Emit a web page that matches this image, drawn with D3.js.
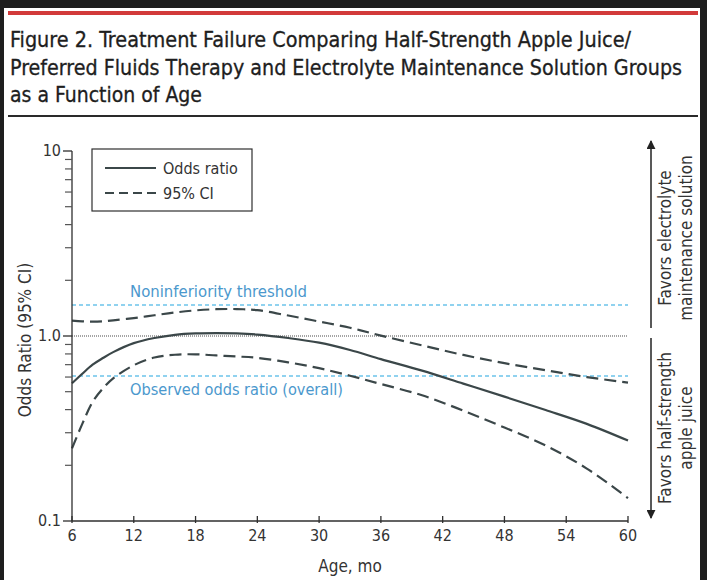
<!DOCTYPE html>
<html>
<head>
<meta charset="utf-8">
<script src="https://cdn.jsdelivr.net/npm/d3@7"></script>
<style>
  html, body { margin: 0; padding: 0; background: #1e1e1e; }
  svg { display: block; }
  text { font-family: "Liberation Sans Narrow", "DejaVu Sans Condensed", "Open Sans", sans-serif; }
</style>
</head>
<body>
<svg id="chart" width="707" height="580"></svg>
<script>
// ---- Data ----
const titleLines = [
  "Figure 2. Treatment Failure Comparing Half-Strength Apple Juice/",
  "Preferred Fluids Therapy and Electrolyte Maintenance Solution Groups",
  "as a Function of Age"
];
const ages = [6, 7, 8, 9, 10, 12, 14, 16, 18, 20, 22, 24, 27, 30, 33, 36, 40, 44, 48, 52, 56, 60];
const oddsRatio = [0.555, 0.625, 0.70, 0.76, 0.818, 0.915, 0.975, 1.015, 1.033, 1.037, 1.033, 1.018, 0.975, 0.92, 0.84, 0.75, 0.65, 0.553, 0.47, 0.398, 0.335, 0.272];
const ciUpper   = [1.21, 1.20, 1.195, 1.20, 1.215, 1.25, 1.295, 1.34, 1.375, 1.396, 1.398, 1.38, 1.29, 1.197, 1.108, 1.005, 0.89, 0.79, 0.713, 0.653, 0.60, 0.56];
const ciLower   = [0.247, 0.335, 0.44, 0.52, 0.59, 0.695, 0.765, 0.792, 0.796, 0.785, 0.775, 0.762, 0.72, 0.67, 0.61, 0.55, 0.478, 0.395, 0.32, 0.256, 0.192, 0.133];
const xTicks = [6, 12, 18, 24, 30, 36, 42, 48, 54, 60];
const yMajorTicks = [0.1, 1, 10];
const yMajorLabels = ["0.1", "1.0", "10"];
const yMinorTicks = [0.2, 0.3, 0.4, 0.5, 0.6, 0.7, 0.8, 0.9, 2, 3, 4, 5, 6, 7, 8, 9];
const nonInferiority = 1.47;
const observedOR = 0.608;
const refLabels = ["Noninferiority threshold", "Observed odds ratio (overall)"];
const legendLabels = ["Odds ratio", "95% CI"];
const xTitle = "Age, mo";
const yTitle = "Odds Ratio (95% CI)";
const favorsUpper = ["Favors electrolyte", "maintenance solution"];
const favorsLower = ["Favors half-strength", "apple juice"];

// ---- Drawing ----
const svg = d3.select("#chart");
const ink = "#2f2f2f";
const curveColor = "#3b4749";
const blueLine = "#6cc4ea";
const blueText = "#4b98cd";

// white page area
svg.append("rect").attr("x", 4).attr("y", 8).attr("width", 696).attr("height", 572).attr("fill", "#ffffff");
// red top rule
svg.append("rect").attr("x", 8).attr("y", 11).attr("width", 690).attr("height", 4).attr("fill", "#d23a3a");

// title
const titleWidths = [621, 672, 192];
const titleBase = [47, 75, 102];
titleLines.forEach((t, i) => {
  svg.append("text").attr("x", 10).attr("y", titleBase[i])
    .attr("font-size", 21).attr("fill", "#1e1e1e")
    .attr("stroke", "#1e1e1e").attr("stroke-width", 0.3)
    .attr("textLength", titleWidths[i]).attr("lengthAdjust", "spacingAndGlyphs")
    .text(t);
});
// black rule under title
svg.append("rect").attr("x", 8).attr("y", 115).attr("width", 690).attr("height", 2).attr("fill", "#2a2a2a");

const x = d3.scaleLinear().domain([6, 60]).range([72, 628]);
const y = d3.scaleLog().domain([0.1, 10]).range([521, 151]);

// reference lines
svg.append("line").attr("x1", x(6)).attr("x2", x(60))
  .attr("y1", y(1)).attr("y2", y(1))
  .attr("stroke", "#a4a4a4").attr("stroke-width", 2).attr("stroke-dasharray", "1,1");
[nonInferiority, observedOR].forEach(v => {
  svg.append("line").attr("x1", x(6)).attr("x2", x(60))
    .attr("y1", y(v)).attr("y2", y(v))
    .attr("stroke", blueLine).attr("stroke-width", 1.5).attr("stroke-dasharray", "4,3");
});
svg.append("text").attr("x", 130).attr("y", y(nonInferiority) - 8)
  .attr("font-size", 16).attr("fill", blueText)
  .attr("textLength", 177).attr("lengthAdjust", "spacingAndGlyphs").text(refLabels[0]);
svg.append("text").attr("x", 130).attr("y", y(observedOR) + 19)
  .attr("font-size", 16).attr("fill", blueText)
  .attr("textLength", 213).attr("lengthAdjust", "spacingAndGlyphs").text(refLabels[1]);

// curves
const line = d3.line().x(d => x(d[0])).y(d => y(d[1])).curve(d3.curveCatmullRom.alpha(0.5));
const series = [
  { vals: ciUpper, dash: "12,6" },
  { vals: ciLower, dash: "12,6" },
  { vals: oddsRatio, dash: null }
];
series.forEach(s => {
  svg.append("path")
    .datum(ages.map((a, i) => [a, s.vals[i]]))
    .attr("d", line)
    .attr("fill", "none")
    .attr("stroke", curveColor)
    .attr("stroke-width", 2.2)
    .attr("stroke-dasharray", s.dash);
});

// axes
const axG = svg.append("g");
axG.append("line").attr("x1", x(6)).attr("x2", x(6)).attr("y1", y(10)).attr("y2", y(0.1))
  .attr("stroke", ink).attr("stroke-width", 1.3);
axG.append("line").attr("x1", x(6)).attr("x2", x(60)).attr("y1", y(0.1)).attr("y2", y(0.1))
  .attr("stroke", ink).attr("stroke-width", 1.3);
yMajorTicks.forEach((v, i) => {
  axG.append("line").attr("x1", x(6) - 9).attr("x2", x(6)).attr("y1", y(v)).attr("y2", y(v))
    .attr("stroke", ink).attr("stroke-width", 1.3);
  axG.append("text").attr("x", x(6) - 11).attr("y", y(v) + 5)
    .attr("text-anchor", "end").attr("font-size", 16).attr("fill", "#333").text(yMajorLabels[i]);
});
yMinorTicks.forEach(v => {
  axG.append("line").attr("x1", x(6) - 7).attr("x2", x(6)).attr("y1", y(v)).attr("y2", y(v))
    .attr("stroke", "#555").attr("stroke-width", 1.2);
});
xTicks.forEach(t => {
  axG.append("line").attr("x1", x(t)).attr("x2", x(t)).attr("y1", y(0.1) - 5).attr("y2", y(0.1) + 2)
    .attr("stroke", ink).attr("stroke-width", 1.3);
  axG.append("text").attr("x", x(t)).attr("y", 541)
    .attr("text-anchor", "middle").attr("font-size", 16).attr("fill", "#333").text(t);
});
svg.append("text").attr("x", 350).attr("y", 572).attr("text-anchor", "middle")
  .attr("font-size", 17).attr("fill", "#333").text(xTitle);
svg.append("text").attr("transform", "translate(31,340) rotate(-90)")
  .attr("text-anchor", "middle").attr("font-size", 17).attr("fill", "#333").text(yTitle);

// legend
svg.append("rect").attr("x", 92).attr("y", 149).attr("width", 160).attr("height", 62)
  .attr("fill", "#fff").attr("stroke", ink).attr("stroke-width", 1.2);
[[168, null], [193, "9,5"]].forEach((d, i) => {
  svg.append("line").attr("x1", 105).attr("x2", 156).attr("y1", d[0]).attr("y2", d[0])
    .attr("stroke", curveColor).attr("stroke-width", 2).attr("stroke-dasharray", d[1]);
  svg.append("text").attr("x", 163).attr("y", d[0] + 6).attr("font-size", 16).attr("fill", "#333")
    .text(legendLabels[i]);
});

// right-hand favors arrows
const defs = svg.append("defs");
defs.append("marker").attr("id", "arr").attr("viewBox", "0 0 10 10")
  .attr("refX", 9).attr("refY", 5).attr("markerWidth", 9).attr("markerHeight", 9)
  .attr("markerUnits", "userSpaceOnUse").attr("orient", "auto")
  .append("path").attr("d", "M0,0 L10,5 L0,10 Z").attr("fill", "#222");
svg.append("line").attr("x1", 651).attr("x2", 651).attr("y1", 328).attr("y2", 141)
  .attr("stroke", "#222").attr("stroke-width", 1.5).attr("marker-end", "url(#arr)");
svg.append("line").attr("x1", 651).attr("x2", 651).attr("y1", 338).attr("y2", 518)
  .attr("stroke", "#222").attr("stroke-width", 1.5).attr("marker-end", "url(#arr)");
[[favorsUpper, 238], [favorsLower, 428]].forEach(([lines, cy]) => {
  lines.forEach((t, i) => {
    svg.append("text").attr("transform", `translate(${671 + i * 21},${cy}) rotate(-90)`)
      .attr("text-anchor", "middle").attr("font-size", 17).attr("fill", "#333").text(t);
  });
});
</script>
</body>
</html>
